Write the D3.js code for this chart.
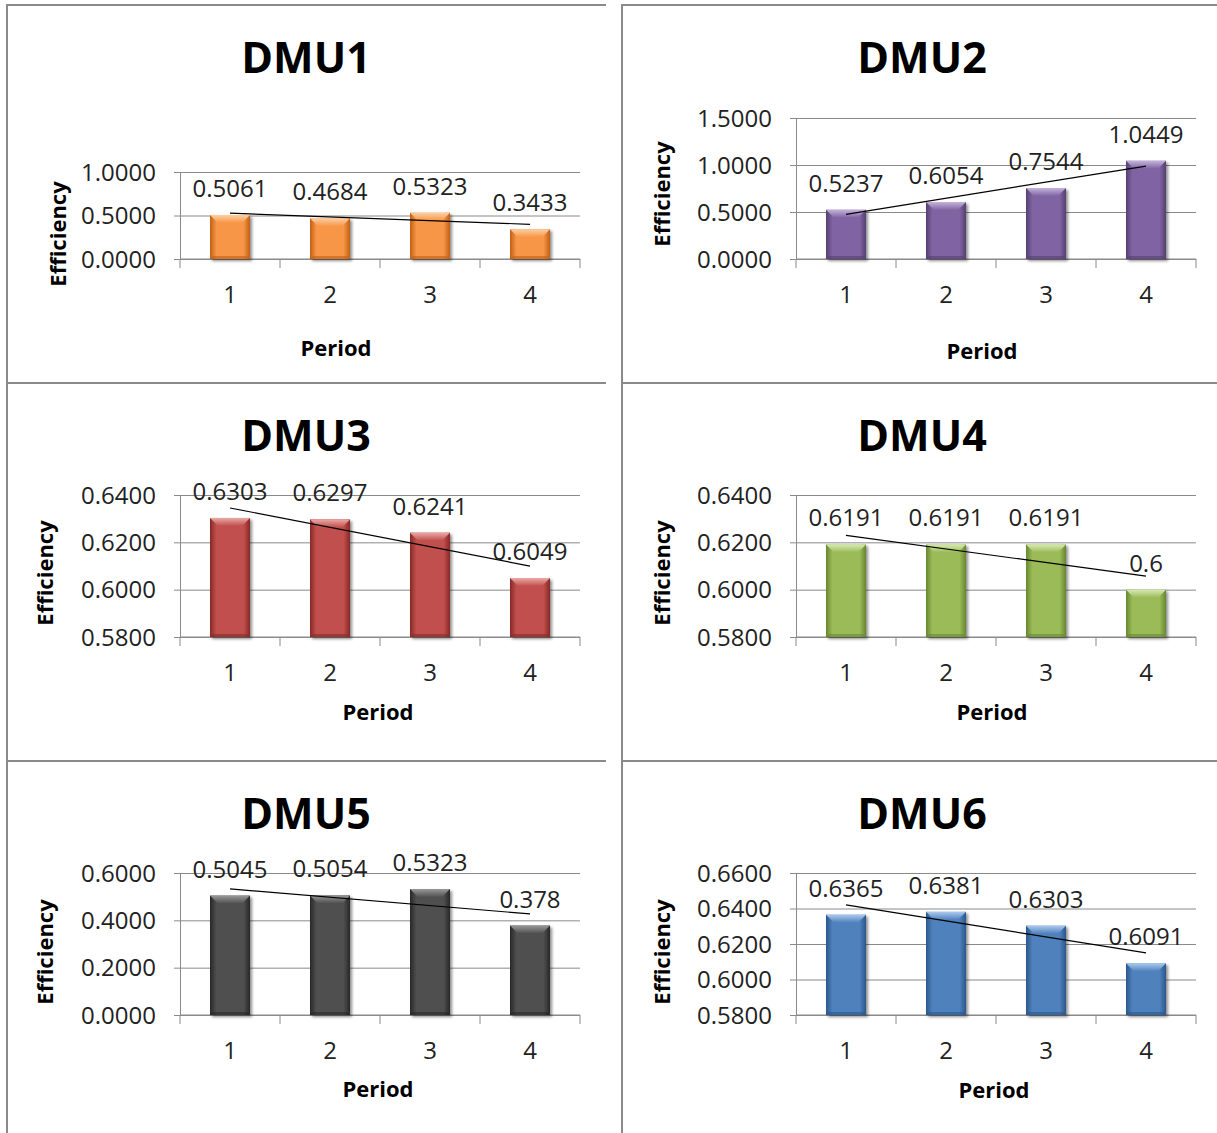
<!DOCTYPE html>
<html><head><meta charset="utf-8">
<script src="https://cdn.jsdelivr.net/npm/d3@7"></script>
<style>html,body{margin:0;padding:0;background:#fff;} svg{display:block;}</style>
</head><body>
<svg id="chart" width="1217" height="1133"></svg>
<script>
// ---------- data ----------
const periods = ["1", "2", "3", "4"];
const chartTitles = ["DMU1", "DMU2", "DMU3", "DMU4", "DMU5", "DMU6"];
const dmu1 = [0.5061, 0.4684, 0.5323, 0.3433];
const dmu2 = [0.5237, 0.6054, 0.7544, 1.0449];
const dmu3 = [0.6303, 0.6297, 0.6241, 0.6049];
const dmu4 = [0.6191, 0.6191, 0.6191, 0.6];
const dmu5 = [0.5045, 0.5054, 0.5323, 0.378];
const dmu6 = [0.6365, 0.6381, 0.6303, 0.6091];
const dmu1Ticks = [0, 0.5, 1.0];
const dmu2Ticks = [0, 0.5, 1.0, 1.5];
const dmu3Ticks = [0.58, 0.60, 0.62, 0.64];
const dmu4Ticks = [0.58, 0.60, 0.62, 0.64];
const dmu5Ticks = [0, 0.2, 0.4, 0.6];
const dmu6Ticks = [0.58, 0.60, 0.62, 0.64, 0.66];
const xAxisTitle = "Period";
const yAxisTitle = "Efficiency";

const seriesList = [dmu1, dmu2, dmu3, dmu4, dmu5, dmu6];
const tickList = [dmu1Ticks, dmu2Ticks, dmu3Ticks, dmu4Ticks, dmu5Ticks, dmu6Ticks];

// ---------- styles / layout ----------
const palette = [
  {base: "#F79646", dark: "#C25F14", light: "#FDD0A6"},
  {base: "#8064A2", dark: "#553F72", light: "#C4B3DC"},
  {base: "#C0504D", dark: "#882926", light: "#EBAAA7"},
  {base: "#9BBB59", dark: "#67872F", light: "#D8EAB3"},
  {base: "#505050", dark: "#262626", light: "#999999"},
  {base: "#4F81BD", dark: "#2A568C", light: "#ABC9EE"}
];
const FONT = "'Open Sans', 'DejaVu Sans', sans-serif";
const layout = [
  {plotTop: 167, periodX: 336, periodY: 343, effX: 58, effY: 229},
  {plotTop: 113, periodX: 366, periodY: 346, effX: 46, effY: 189},
  {plotTop: 112, periodX: 378, periodY: 329, effX: 45, effY: 190},
  {plotTop: 112, periodX: 376, periodY: 329, effX: 46, effY: 190},
  {plotTop: 112, periodX: 378, periodY: 328, effX: 45, effY: 191},
  {plotTop: 112, periodX: 378, periodY: 329, effX: 46, effY: 191}
];
const plotBottom = 254, plotLeft = 180, plotRight = 580;
const panelW = 616, panelH = 378, panelY0 = 5;

const svg = d3.select("#chart");
const defs = svg.append("defs");

// shadow filter
const f = defs.append("filter").attr("id", "shadow").attr("x", "-20%").attr("y", "-20%").attr("width", "150%").attr("height", "150%");
f.append("feGaussianBlur").attr("in", "SourceAlpha").attr("stdDeviation", 1.6).attr("result", "b");
f.append("feOffset").attr("in", "b").attr("dx", 2).attr("dy", 2).attr("result", "o");
f.append("feComponentTransfer").attr("in", "o").attr("result", "s")
  .append("feFuncA").attr("type", "linear").attr("slope", 0.45);
const fm = f.append("feMerge");
fm.append("feMergeNode").attr("in", "s");
fm.append("feMergeNode").attr("in", "SourceGraphic");

palette.forEach((c, i) => {
  const g = defs.append("linearGradient").attr("id", "hg" + i).attr("x1", 0).attr("x2", 1).attr("y1", 0).attr("y2", 0);
  [[0, c.dark], [0.16, c.base], [0.5, c.base], [0.84, c.base], [1, c.dark]].forEach(s =>
    g.append("stop").attr("offset", s[0]).attr("stop-color", s[1]));
  const v = defs.append("linearGradient").attr("id", "vg" + i).attr("x1", 0).attr("x2", 0).attr("y1", 0).attr("y2", 1);
  [[0, c.light], [1, c.base]].forEach(s =>
    v.append("stop").attr("offset", s[0]).attr("stop-color", s[1]));
});

// panel borders
const borderColor = "#8a8a8a";
const borders = svg.append("g").attr("stroke", borderColor).attr("stroke-width", 2).attr("fill", "none");
[5, 383, 761].forEach(y => {
  borders.append("line").attr("x1", 6).attr("x2", 606).attr("y1", y).attr("y2", y);
  borders.append("line").attr("x1", 621).attr("x2", 1217).attr("y1", y).attr("y2", y);
});
[7, 622].forEach(x => borders.append("line").attr("x1", x).attr("x2", x).attr("y1", 4).attr("y2", 1133));

seriesList.forEach((values, i) => {
  const col = i % 2, row = Math.floor(i / 2);
  const ox = col * panelW, oy = panelY0 + row * panelH;
  const L = layout[i];
  const g = svg.append("g").attr("transform", `translate(${ox},${oy})`);
  const ticks = tickList[i];

  const x = d3.scaleBand().domain(periods).range([plotLeft, plotRight]).paddingInner(0.6).paddingOuter(0.3);
  const xb = d3.scaleBand().domain(periods).range([plotLeft, plotRight]);
  const y = d3.scaleLinear().domain([d3.min(ticks), d3.max(ticks)]).range([plotBottom, L.plotTop]);

  // title
  g.append("text").attr("x", 306).attr("y", 68).attr("text-anchor", "middle")
    .attr("font-family", FONT).attr("font-weight", 700).attr("font-size", 43).attr("fill", "#000")
    .text(chartTitles[i]);

  // gridlines + y axis
  const yAxis = d3.axisLeft(y).tickValues(ticks).tickSize(-(plotRight - plotLeft)).tickSizeOuter(0).tickPadding(0)
    .tickFormat(d3.format(".4f"));
  const ya = g.append("g").attr("transform", `translate(${plotLeft},0)`).call(yAxis);
  ya.select(".domain").attr("stroke", "#8a8a8a");
  ya.selectAll(".tick line").attr("stroke", "#8a8a8a").attr("x1", -6);
  ya.selectAll(".tick text").attr("x", -24).attr("dy", "0.34em")
    .attr("font-family", FONT).attr("font-size", 24).attr("fill", "#222");

  // x axis
  const xa = g.append("g").attr("transform", `translate(0,${plotBottom})`);
  xa.append("line").attr("x1", plotLeft).attr("x2", plotRight).attr("stroke", "#8a8a8a");
  const bounds = periods.map(p => xb(p)).concat([plotRight]);
  xa.selectAll("line.xt").data(bounds).join("line").attr("class", "xt")
    .attr("x1", d => d).attr("x2", d => d).attr("y1", 0).attr("y2", 9).attr("stroke", "#8a8a8a");
  xa.selectAll("text").data(periods).join("text")
    .attr("x", d => xb(d) + xb.bandwidth() / 2).attr("y", 44).attr("text-anchor", "middle")
    .attr("font-family", FONT).attr("font-size", 24).attr("fill", "#222").text(d => d);

  // bars
  const bars = g.append("g");
  values.forEach((v, j) => {
    const bx = x(periods[j]), bw = x.bandwidth();
    const top = y(v), h = plotBottom - top;
    const bev = Math.min(8, h / 2);
    const bg = bars.append("g").attr("filter", "url(#shadow)");
    bg.append("rect").attr("x", bx).attr("y", top).attr("width", bw).attr("height", h).attr("fill", `url(#hg${i})`);
    bg.append("polygon").attr("points", [[bx, top], [bx + bw, top], [bx + bw - bev, top + bev], [bx + bev, top + bev]].join(" "))
      .attr("fill", `url(#vg${i})`);
    bg.append("polygon").attr("points", [[bx, plotBottom], [bx + bw, plotBottom], [bx + bw - 3, plotBottom - 3], [bx + 3, plotBottom - 3]].join(" "))
      .attr("fill", palette[i].dark).attr("opacity", 0.6);
  });

  // linear trendline (least squares over period index)
  const xs = values.map((_, j) => j + 1);
  const mx = d3.mean(xs), my = d3.mean(values);
  const slope = d3.sum(xs.map((xv, j) => (xv - mx) * (values[j] - my))) / d3.sum(xs.map(xv => (xv - mx) ** 2));
  const icpt = my - slope * mx;
  const trend = [1, 4].map(t => [xb(periods[t - 1]) + xb.bandwidth() / 2, y(icpt + slope * t)]);
  g.append("path").attr("d", d3.line()(trend)).attr("stroke", "#000").attr("stroke-width", 1.2).attr("fill", "none");

  // data labels
  g.append("g").selectAll("text").data(values).join("text")
    .attr("x", (d, j) => xb(periods[j]) + xb.bandwidth() / 2)
    .attr("y", d => y(d) - 18).attr("text-anchor", "middle")
    .attr("font-family", FONT).attr("font-size", 24).attr("fill", "#222")
    .text(d => String(d));

  // axis titles
  g.append("text").attr("x", L.periodX).attr("y", L.periodY).attr("dy", "0.35em").attr("text-anchor", "middle")
    .attr("font-family", FONT).attr("font-weight", 700).attr("font-size", 22).attr("fill", "#000").text(xAxisTitle);
  g.append("text").attr("transform", `translate(${L.effX},${L.effY}) rotate(-90)`).attr("dy", "0.35em").attr("text-anchor", "middle")
    .attr("font-family", FONT).attr("font-weight", 700).attr("font-size", 22).attr("fill", "#000").text(yAxisTitle);
});
</script>
</body></html>
